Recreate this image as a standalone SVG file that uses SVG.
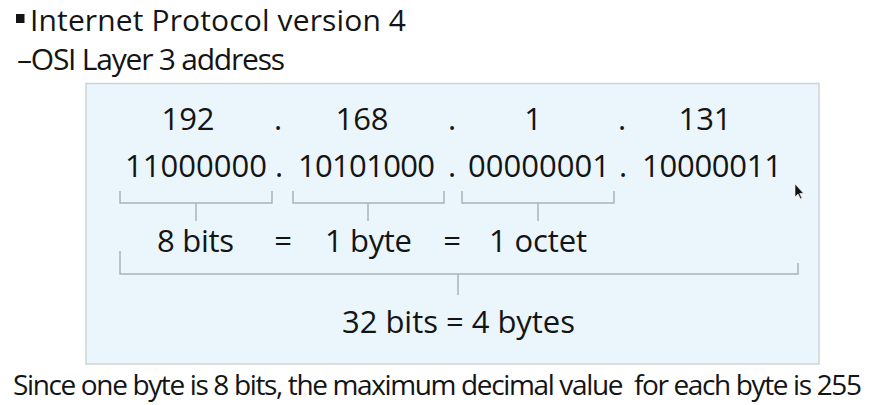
<svg xmlns="http://www.w3.org/2000/svg" width="880" height="405" viewBox="0 0 880 405">
<style>
text{font-family:"Open Sans","Noto Sans","Liberation Sans",sans-serif;fill:#141414}
.h{font-size:30px}
.n{font-size:31px}
.c{text-anchor:middle}
.br{fill:none;stroke:#aab3b8;stroke-width:1.5}
</style>
<rect width="880" height="405" fill="#ffffff"/>
<g id="heading">
<rect x="16" y="14" width="8.5" height="9" fill="#141414"/>
<text class="h" x="30" y="31" textLength="376">Internet Protocol version 4</text>
<text class="h" x="17" y="70" textLength="268">–OSI Layer 3 address</text>
</g>
<g id="panel">
<rect x="86" y="83.5" width="733" height="280.5" fill="#eaf6fb" stroke="#cdd3d6" stroke-width="1.5"/>
</g>
<g id="decimal">
<text class="n c" x="188" y="130">192</text>
<text class="n c" x="278" y="130">.</text>
<text class="n c" x="362" y="130">168</text>
<text class="n c" x="452" y="130">.</text>
<text class="n c" x="533" y="130">1</text>
<text class="n c" x="622" y="130">.</text>
<text class="n c" x="705" y="130">131</text>
</g>
<g id="binary">
<text class="n" x="125" y="177" textLength="142">11000000</text>
<text class="n c" x="279" y="177">.</text>
<text class="n" x="298" y="177" textLength="137">10101000</text>
<text class="n c" x="452" y="177">.</text>
<text class="n" x="468" y="177" textLength="142">00000001</text>
<text class="n c" x="623" y="177">.</text>
<text class="n" x="642" y="177" textLength="140">10000011</text>
</g>
<g id="connectors">
<path class="br" d="M120,191 V203 H272 V191 M196,203 V221"/>
<path class="br" d="M293,191 V203 H444 V191 M368,203 V221"/>
<path class="br" d="M462,191 V203 H614 V191 M538,203 V221"/>
<path class="br" d="M120,251 V274 H798 V263 M458,274 V295"/>
</g>
<g id="equivalence">
<text class="n" x="157" y="252" textLength="77">8 bits</text>
<text class="n c" x="283" y="252">=</text>
<text class="n" x="325" y="252" textLength="87">1 byte</text>
<text class="n c" x="452" y="252">=</text>
<text class="n" x="489" y="252" textLength="98">1 octet</text>
</g>
<g id="total">
<text class="n" x="342" y="333" textLength="233">32 bits = 4 bytes</text>
</g>
<g id="cursor">
<path d="M795,184 L795,197 L798,194 L800.5,199 L802,198.3 L799.7,193.5 L803.5,193.3 Z" fill="#111" stroke="#fff" stroke-width="0.6"/>
</g>
<g id="note">
<text x="13" y="395" style="font-size:28px;white-space:pre" xml:space="preserve" textLength="849">Since one byte is 8 bits, the maximum decimal value  for each byte is 255</text>
</g>
</svg>
